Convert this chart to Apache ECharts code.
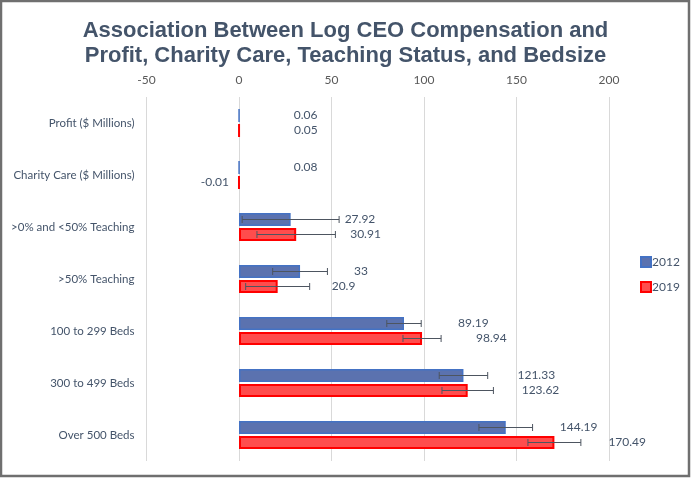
<!DOCTYPE html>
<html>
<head>
<meta charset="utf-8">
<script src="https://cdn.jsdelivr.net/npm/echarts@6/dist/echarts.min.js"></script>
<style>html,body{margin:0;padding:0;background:#fff;}#c{width:691px;height:478px;}</style>
</head>
<body>
<div id="c"></div>
<script>
const categories = ['Profit ($ Millions)', 'Charity Care ($ Millions)', '>0% and <50% Teaching', '>50% Teaching', '100 to 299 Beds', '300 to 499 Beds', 'Over 500 Beds'];
const seriesNames = ['2012', '2019'];
const values2012 = [0.06, 0.08, 27.92, 33, 89.19, 121.33, 144.19];
const values2019 = [0.05, -0.01, 30.91, 20.9, 98.94, 123.62, 170.49];
const errors2012 = [0, 0, 26.2, 14.8, 9.3, 13.1, 14.5];
const errors2019 = [0, 0, 21.2, 17.3, 10.3, 13.9, 14.3];
const xTicks = [-50, 0, 50, 100, 150, 200];

const BAR_W = 13, BAR_GAP = 2;
const offsets = [-(BAR_W + BAR_GAP) / 2, (BAR_W + BAR_GAP) / 2];
const FONT = 'Lato';

function errData(vals, errs) {
  return vals.map((v, i) => [v, i, errs[i]]);
}
function errRender(sIdx) {
  return function (params, api) {
    const v = api.value(0), cat = api.value(1), e = api.value(2);
    if (!e) return null;
    const c = api.coord([v, cat]);
    const y = c[1] + offsets[sIdx];
    const x1 = api.coord([v - e, cat])[0];
    const x2 = api.coord([v + e, cat])[0];
    const st = { stroke: '#4d5560', lineWidth: 1 };
    return {
      type: 'group',
      children: [
        { type: 'line', shape: { x1: x1, y1: y, x2: x2, y2: y }, style: st },
        { type: 'line', shape: { x1: x1, y1: y - 3.5, x2: x1, y2: y + 3.5 }, style: st },
        { type: 'line', shape: { x1: x2, y1: y - 3.5, x2: x2, y2: y + 3.5 }, style: st }
      ]
    };
  };
}
function labelData(vals) {
  return vals.map(v => v < 0 ? { value: v, label: { position: 'left', distance: 9 } } : v);
}

const chart = echarts.init(document.getElementById('c'));
chart.setOption({
  backgroundColor: '#fff',
  animation: false,
  title: {
    text: 'Association Between Log CEO Compensation and\nProfit, Charity Care, Teaching Status, and Bedsize',
    left: 'center',
    top: 13,
    textStyle: { fontFamily: 'Liberation Sans', fontWeight: 'bold', fontSize: 22, lineHeight: 25, color: '#44546A' }
  },
  graphic: [{
    type: 'rect', shape: { x: 1, y: 1, width: 688, height: 475 },
    style: { fill: 'none', stroke: '#6f6f6f', lineWidth: 2.5 }, z: 100
  }],
  legend: {
    data: seriesNames,
    orient: 'vertical',
    left: 635,
    top: 251,
    itemWidth: 10,
    itemHeight: 10,
    itemGap: 13,
    icon: 'rect',
    textStyle: { fontFamily: FONT, fontSize: 12, color: '#44546A', padding: [0, 0, 0, -4] }
  },
  grid: { left: 146.5, right: 82, top: 97, bottom: 17, containLabel: false },
  xAxis: {
    type: 'value', position: 'top', min: xTicks[0], max: xTicks[xTicks.length - 1], interval: 50,
    axisLine: { show: false }, axisTick: { show: false },
    axisLabel: { fontFamily: FONT, fontSize: 12, color: '#595959', margin: 11 },
    splitLine: { lineStyle: { color: '#d9d9d9', width: 1 } }
  },
  yAxis: {
    type: 'category', data: categories, inverse: true,
    axisLine: { show: false }, axisTick: { show: false },
    axisLabel: { fontFamily: FONT, fontSize: 11.5, color: '#44546A', margin: 12 }
  },
  series: [
    {
      name: seriesNames[0], type: 'bar', data: labelData(values2012), barWidth: BAR_W, barGap: (BAR_GAP / BAR_W * 100) + '%',
      itemStyle: { color: '#5B72AF', borderColor: '#4472C4', borderWidth: 1.5 },
      label: { show: true, position: 'right', distance: 54, fontFamily: FONT, fontSize: 12, color: '#44546A' }
    },
    {
      name: seriesNames[1], type: 'bar', data: labelData(values2019), barWidth: BAR_W,
      itemStyle: { color: '#FF4D4D', borderColor: '#FF0000', borderWidth: 2 },
      label: { show: true, position: 'right', distance: 54, fontFamily: FONT, fontSize: 12, color: '#44546A' }
    },
    { type: 'custom', name: 'err2012', data: errData(values2012, errors2012), renderItem: errRender(0), encode: { x: 0, y: 1 }, z: 10, silent: true },
    { type: 'custom', name: 'err2019', data: errData(values2019, errors2019), renderItem: errRender(1), encode: { x: 0, y: 1 }, z: 10, silent: true }
  ]
});
</script>
</body>
</html>
